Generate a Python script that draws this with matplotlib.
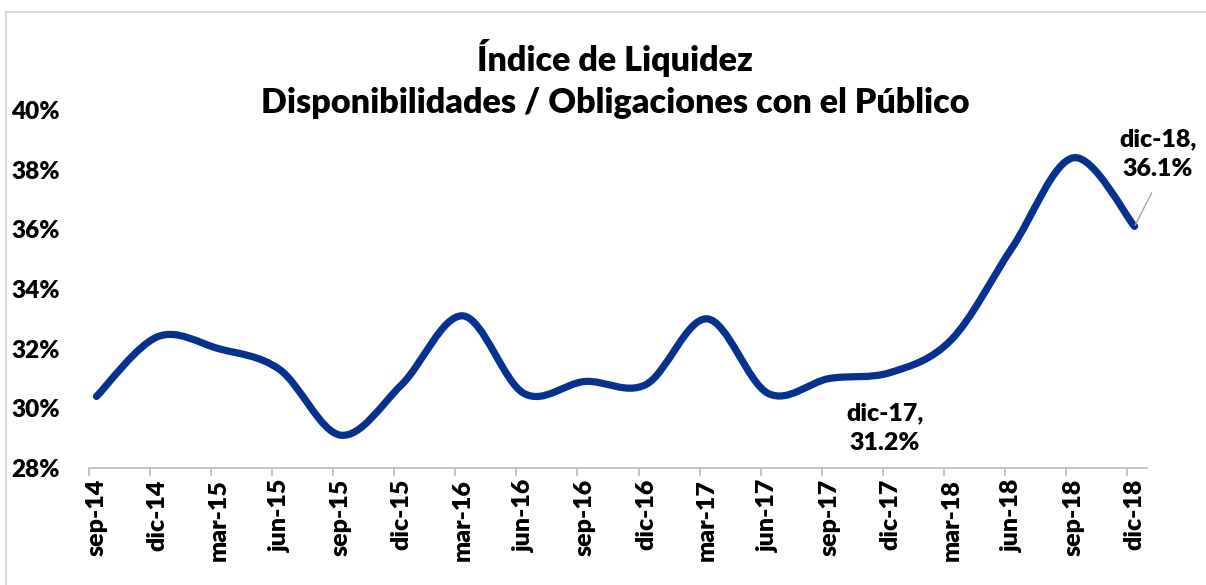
import matplotlib
matplotlib.use("Agg")
import matplotlib.pyplot as plt
from matplotlib.path import Path
from matplotlib.patches import PathPatch
from matplotlib.lines import Line2D
import numpy as np

plt.rcParams["font.family"] = ["Lato", "DejaVu Sans"]
plt.rcParams["font.weight"] = "heavy"

# data
periods = ["sep-14", "dic-14", "mar-15", "jun-15", "sep-15", "dic-15",
           "mar-16", "jun-16", "sep-16", "dic-16", "mar-17", "jun-17",
           "sep-17", "dic-17", "mar-18", "jun-18", "sep-18", "dic-18"]
liquidez = [30.4, 32.4, 32.0, 31.3, 29.1, 30.8,
            33.1, 30.5, 30.9, 30.8, 33.0, 30.5,
            31.0, 31.2, 32.3, 35.4, 38.4, 36.1]
yticks = [28, 30, 32, 34, 36, 38, 40]

LINE = "#06318f"
GREY = "#bfbfbf"


def smooth_path(xs, ys):
    """Excel-like smoothed line: Catmull-Rom segments as cubic Bezier curves."""
    pts = np.column_stack([xs, ys]).astype(float)
    n = len(pts)
    verts = [pts[0]]
    codes = [Path.MOVETO]
    for i in range(n - 1):
        p0 = pts[i - 1] if i > 0 else pts[i]
        p1 = pts[i]
        p2 = pts[i + 1]
        p3 = pts[i + 2] if i + 2 < n else pts[i + 1]
        c1 = p1 + (p2 - p0) / 6.0
        c2 = p2 - (p3 - p1) / 6.0
        verts += [c1, c2, p2]
        codes += [Path.CURVE4] * 3
    return Path(verts, codes)


fig = plt.figure(figsize=(12.06, 5.85), dpi=100)
ax = fig.add_axes([89 / 1206, 117 / 585, 1058 / 1206, 358 / 585])

x = np.arange(len(periods))
patch = PathPatch(smooth_path(x, liquidez), facecolor="none", edgecolor=LINE,
                  lw=5.2, capstyle="round", joinstyle="round", clip_on=False)
ax.add_patch(patch)

ax.set_xlim(-0.123, 17.204)
ax.set_ylim(28, 40)

ax.set_yticks(yticks)
ax.set_yticklabels([f"{v}%" for v in yticks])
ax.tick_params(axis="y", length=0, pad=21, labelsize=17.5)

ax.set_xticks(x)
ax.set_xticklabels(periods, rotation=90, va="top", ha="center")
ax.tick_params(axis="x", which="major", length=0, pad=8, labelsize=18)
ax.set_xticks(x - 0.123, minor=True)
ax.tick_params(axis="x", which="minor", length=6, width=1.3, color=GREY)

for side in ["top", "right", "left"]:
    ax.spines[side].set_visible(False)
ax.spines["bottom"].set_color(GREY)
ax.spines["bottom"].set_linewidth(1.3)

# data labels
ax.annotate("dic-17,\n31.2%", xy=(13, liquidez[13]), xytext=(-4, -40),
            textcoords="offset points", ha="center", va="center",
            fontsize=18, linespacing=1.45)
ax.annotate("dic-18,\n36.1%", xy=(17, liquidez[17]), xytext=(17, 52),
            textcoords="offset points", ha="center", va="center",
            fontsize=18, linespacing=1.45,
            arrowprops=dict(arrowstyle="-", color="#a6a6a6", lw=1,
                            relpos=(0.5, 0), shrinkA=8, shrinkB=1))

fig.text(0.51, 1 - 58 / 585, "Índice de Liquidez", ha="center", va="center",
         fontsize=24.6)
fig.text(0.51, 1 - 103 / 585, "Disponibilidades / Obligaciones con el Público",
         ha="center", va="center", fontsize=24.6)

# chart border (top and left edges visible)
fig.add_artist(Line2D([6 / 1206, 1], [1 - 12 / 585, 1 - 12 / 585],
                      transform=fig.transFigure, color="#d9d9d9", lw=1.5))
fig.add_artist(Line2D([6 / 1206, 6 / 1206], [0, 1 - 12 / 585],
                      transform=fig.transFigure, color="#d9d9d9", lw=1.5))

fig.savefig("out.png", dpi=100)
